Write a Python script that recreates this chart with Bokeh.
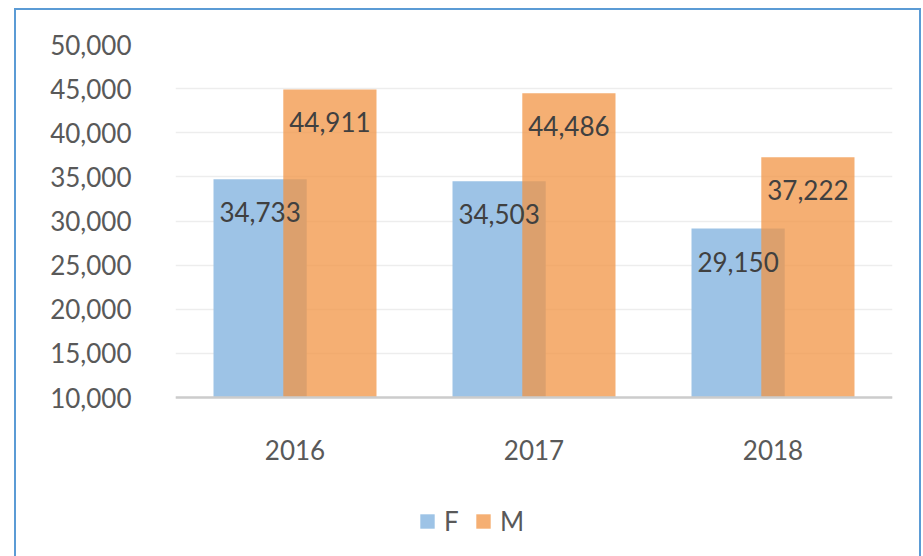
from bokeh.plotting import figure
from bokeh.models import (FactorRange, FixedTicker, NumeralTickFormatter, Legend, LegendItem,
                          ColumnDataSource, Range1d, InlineStyleSheet)
from bokeh.transform import dodge
from bokeh.core.properties import value
from bokeh.embed import file_html
from bokeh.resources import INLINE

years = ["2016", "2017", "2018"]
female = [34733, 34503, 29150]
male = [44911, 44486, 37222]
y_ticks = [10000, 15000, 20000, 25000, 30000, 35000, 40000, 45000, 50000]

FONT = "Lato"

# layout: value axis 10,000 -> y=397px, 50,000 -> y=44px; frame extends to y=550 to hold the legend
FRAME_TOP, AXIS_Y, FRAME_BOTTOM = 44, 397, 550
y_min, y_max = 10000, 50000
y_start = y_min - (FRAME_BOTTOM - AXIS_Y) / (AXIS_Y - FRAME_TOP) * (y_max - y_min)

src = ColumnDataSource(dict(
    year=years, F=female, M=male,
    F_lbl=[f"{v:,}" for v in female], M_lbl=[f"{v:,}" for v in male],
))

p = figure(width=923, height=556, x_range=FactorRange(factors=years, range_padding=0),
           y_range=Range1d(y_start, y_max), output_backend="svg", toolbar_location=None,
           min_border_left=175, min_border_right=31, min_border_top=FRAME_TOP,
           min_border_bottom=556 - FRAME_BOTTOM)
p.outline_line_color = None
p.background_fill_color = "white"
p.border_fill_color = "white"

rf = p.vbar(x=dodge("year", -0.146, range=p.x_range), top="F", bottom=y_min, width=0.39,
            source=src, fill_color="#9DC3E6", line_color=None)
rm = p.vbar(x=dodge("year", 0.146, range=p.x_range), top="M", bottom=y_min, width=0.39,
            source=src, fill_color="#F29444", fill_alpha=0.75, line_color=None)

p.text(x=dodge("year", -0.146, range=p.x_range), y="F", text="F_lbl", source=src,
       y_offset=33, text_align="center", text_baseline="middle",
       text_font=value(FONT), text_font_size="26px", text_color="#404040")
p.text(x=dodge("year", 0.146, range=p.x_range), y="M", text="M_lbl", source=src,
       y_offset=33, text_align="center", text_baseline="middle",
       text_font=value(FONT), text_font_size="26px", text_color="#404040")

p.xgrid.grid_line_color = None
p.ygrid.grid_line_color = "#EDEDED"
p.ygrid.grid_line_width = 1.5

p.yaxis.ticker = FixedTicker(ticks=y_ticks)
p.yaxis.formatter = NumeralTickFormatter(format="0,0")
p.yaxis.axis_line_color = None
p.yaxis.major_tick_line_color = None
p.yaxis.minor_tick_line_color = None
p.yaxis.major_label_standoff = 38
p.yaxis.major_label_text_font = FONT
p.yaxis.major_label_text_font_size = "26px"
p.yaxis.major_label_text_color = "#595959"

p.xaxis.fixed_location = y_min
p.xaxis.axis_line_color = "#CCCCCC"
p.xaxis.axis_line_width = 2.5
p.xaxis.major_tick_line_color = None
p.xaxis.minor_tick_line_color = None
p.xaxis.major_label_standoff = 36
p.xaxis.major_label_text_font = FONT
p.xaxis.major_label_text_font_size = "26px"
p.xaxis.major_label_text_color = "#595959"

legend = Legend(items=[LegendItem(label="F", renderers=[rf]), LegendItem(label="M", renderers=[rm])],
                orientation="horizontal", location=(243, 13), padding=0, margin=0,
                glyph_width=18, glyph_height=18, label_standoff=8, spacing=10,
                label_text_font=FONT, label_text_font_size="26px", label_text_color="#595959",
                border_line_color=None, background_fill_alpha=0)
p.add_layout(legend, "center")

p.stylesheets = [InlineStyleSheet(css="""
:host { position: relative; }
:host::after {
  content: ""; position: absolute; left: 14px; top: 8px; width: 907px; height: 548px;
  box-sizing: border-box; border-left: 2.5px solid #5B9BD5; border-top: 2.5px solid #5B9BD5;
  border-right: 2.5px solid #5B9BD5; pointer-events: none; z-index: 10;
}
""")]

open("out.html", "w").write(file_html(p, INLINE))
